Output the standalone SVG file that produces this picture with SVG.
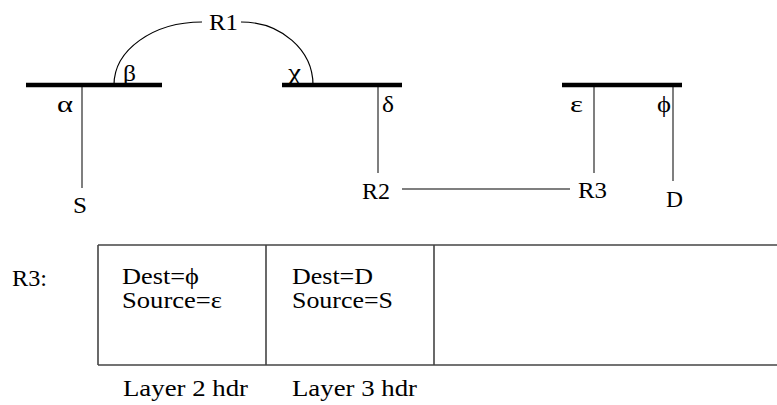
<svg xmlns="http://www.w3.org/2000/svg" width="777" height="405" viewBox="0 0 777 405">
<style>
.t { font-family: 'Liberation Serif', 'Times New Roman', Times, serif; font-size: 23px; fill: #000; }
.bus { stroke: #000; stroke-width: 4.5; fill: none; }
.drop { stroke: #555; stroke-width: 1.5; fill: none; }
.link { stroke: #000; stroke-width: 1.2; fill: none; }
.box { stroke: #444; stroke-width: 1.6; fill: none; }
</style>
<rect width="777" height="405" fill="#fff"/>

<g id="connectors">
  <path class="link" d="M114,85 C114,50 153,22 202,22"/>
  <path class="link" d="M241,22 C281,22 313,50 313,85"/>
  <line class="drop" x1="82" y1="85" x2="82" y2="188"/>
  <line class="drop" x1="378" y1="85" x2="378" y2="173"/>
  <line class="drop" x1="594" y1="85" x2="594" y2="173"/>
  <line class="drop" x1="673" y1="85" x2="673" y2="181"/>
  <line class="link" x1="402" y1="189" x2="570" y2="189"/>
</g>

<g class="t" font-family="Liberation Serif, serif" font-size="23">
<g id="lan1">
  <line class="bus" x1="26" y1="85" x2="162" y2="85"/>
  <text x="57" y="112" textLength="16" lengthAdjust="spacingAndGlyphs">α</text>
  <text x="123" y="81" textLength="13" lengthAdjust="spacingAndGlyphs">β</text>
</g>
<g id="lan2">
  <line class="bus" x1="282" y1="85" x2="402" y2="85"/>
  <text x="288" y="80" textLength="13" lengthAdjust="spacingAndGlyphs">χ</text>
  <text x="382" y="112" textLength="12" lengthAdjust="spacingAndGlyphs">δ</text>
</g>
<g id="lan3">
  <line class="bus" x1="562" y1="85" x2="682" y2="85"/>
  <text x="570" y="112" textLength="13" lengthAdjust="spacingAndGlyphs">ε</text>
  <text x="657" y="112" textLength="14" lengthAdjust="spacingAndGlyphs">ϕ</text>
</g>
<g id="R1">
  <text x="209" y="30" textLength="29" lengthAdjust="spacingAndGlyphs">R1</text>
</g>
<g id="R2">
  <text x="362" y="199" textLength="28" lengthAdjust="spacingAndGlyphs">R2</text>
</g>
<g id="R3">
  <text x="578" y="198" textLength="29" lengthAdjust="spacingAndGlyphs">R3</text>
</g>
<g id="S">
  <text x="73" y="213" textLength="14" lengthAdjust="spacingAndGlyphs">S</text>
</g>
<g id="D">
  <text x="666" y="207" textLength="17" lengthAdjust="spacingAndGlyphs">D</text>
</g>

<g id="packet">
  <text x="12" y="286" textLength="35" lengthAdjust="spacingAndGlyphs">R3:</text>
  <line class="box" x1="98" y1="245" x2="777" y2="245"/>
  <line class="box" x1="98" y1="365" x2="777" y2="365"/>
  <line class="box" x1="98" y1="245" x2="98" y2="365"/>
  <line class="box" x1="266" y1="245" x2="266" y2="365"/>
  <line class="box" x1="434" y1="245" x2="434" y2="365"/>
  <text x="122" y="284" textLength="77" lengthAdjust="spacingAndGlyphs">Dest=ϕ</text>
  <text x="122" y="308" textLength="100" lengthAdjust="spacingAndGlyphs">Source=ε</text>
  <text x="292" y="284" textLength="81" lengthAdjust="spacingAndGlyphs">Dest=D</text>
  <text x="292" y="308" textLength="101" lengthAdjust="spacingAndGlyphs">Source=S</text>
  <text x="123" y="396" textLength="125" lengthAdjust="spacingAndGlyphs">Layer 2 hdr</text>
  <text x="292" y="396" textLength="125" lengthAdjust="spacingAndGlyphs">Layer 3 hdr</text>
</g>
</g>
</svg>
